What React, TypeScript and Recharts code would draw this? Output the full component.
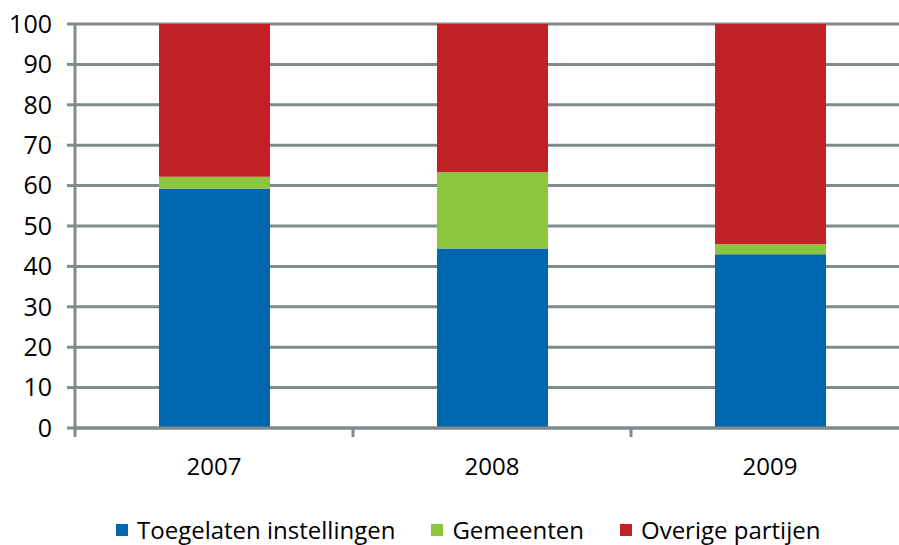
import { BarChart, Bar, XAxis, YAxis, CartesianGrid, Legend } from 'recharts'

const years = ['2007', '2008', '2009']
const toegelaten = [59.2, 44.4, 43.0]
const gemeenten = [3.0, 18.9, 2.5]
const overige = [37.8, 36.7, 54.5]
const yTicks = [0, 10, 20, 30, 40, 50, 60, 70, 80, 90, 100]

const series = [
  { key: 'toegelaten', name: 'Toegelaten instellingen', color: '#0066ae' },
  { key: 'gemeenten', name: 'Gemeenten', color: '#8cc63f' },
  { key: 'overige', name: 'Overige partijen', color: '#c12026' },
]

// numeric x so ticks can sit on the category boundaries
const data = years.map((year, i) => ({
  year,
  pos: i + 0.5,
  toegelaten: toegelaten[i],
  gemeenten: gemeenten[i],
  overige: overige[i],
}))

const GRID = '#80898b'
const FONT = '"Open Sans", Lato, sans-serif'

function XTick({ x, y, payload }: any) {
  const v = payload.value as number
  if (Number.isInteger(v)) {
    return <line x1={x} x2={x} y1={y} y2={y + 9} stroke={GRID} strokeWidth={3} />
  }
  return (
    <text x={x} y={y + 47} textAnchor="middle" fill="#000" fontSize={24} fontFamily={FONT}>
      {years[Math.floor(v)]}
    </text>
  )
}

function LegendBox() {
  return (
    <div style={{ display: 'flex', alignItems: 'center', height: 30, paddingLeft: 116, gap: 36, fontFamily: FONT, fontSize: 24, color: '#000', lineHeight: '30px' }}>
      {series.map((s) => (
        <div key={s.key} style={{ display: 'flex', alignItems: 'center' }}>
          <span style={{ width: 12, height: 12, background: s.color, display: 'inline-block', marginRight: 9 }} />
          <span>{s.name}</span>
        </div>
      ))}
    </div>
  )
}

export default function App() {
  return (
    <div style={{ position: 'absolute', left: 0, top: 0, width: 899, height: 545, overflow: 'hidden', background: '#fff' }}>
      <BarChart width={930} height={545} data={data} margin={{ top: 24, right: 21, bottom: 0, left: 0 }}>
        <CartesianGrid vertical={false} stroke={GRID} strokeWidth={3} />
        <XAxis
          dataKey="pos"
          type="number"
          domain={[0, 3]}
          ticks={[0, 0.5, 1, 1.5, 2, 2.5, 3]}
          interval={0}
          height={87}
          tickSize={0}
          tickMargin={0}
          tickLine={false}
          axisLine={{ stroke: GRID, strokeWidth: 3 }}
          tick={<XTick />}
        />
        <YAxis
          domain={[0, 100]}
          ticks={yTicks}
          interval={0}
          width={75}
          tickSize={8}
          tickMargin={15}
          tickLine={{ stroke: GRID, strokeWidth: 3 }}
          axisLine={{ stroke: GRID, strokeWidth: 3 }}
          tick={{ fill: '#000', fontSize: 25, fontFamily: FONT }}
        />
        <Legend verticalAlign="bottom" align="left" height={30} content={<LegendBox />} />
        {series.map((s) => (
          <Bar key={s.key} dataKey={s.key} name={s.name} stackId="a" fill={s.color} barSize={111} isAnimationActive={false} />
        ))}
      </BarChart>
    </div>
  )
}
